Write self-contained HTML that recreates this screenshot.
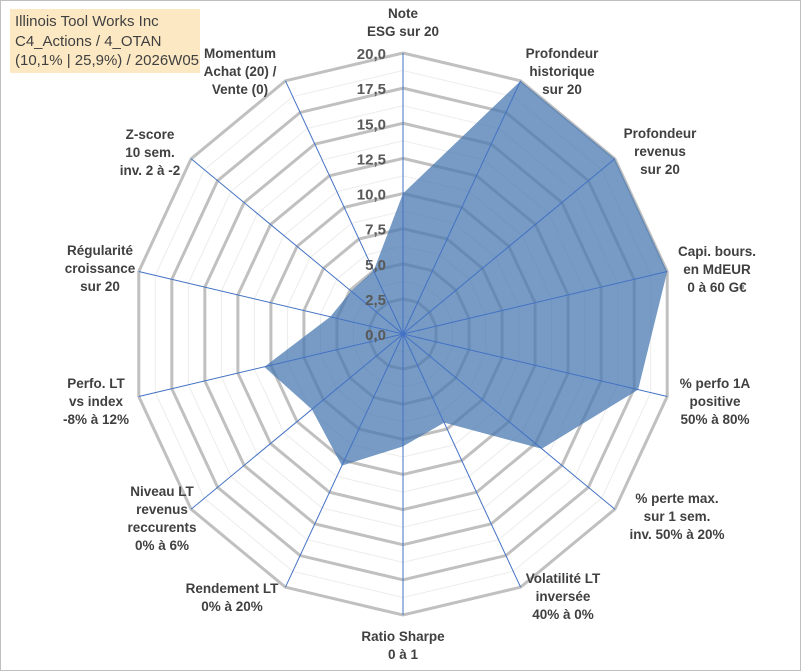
<!DOCTYPE html>
<html><head><meta charset="utf-8"><style>
html,body{margin:0;padding:0;background:#fff}
#wrap{position:relative;width:801px;height:671px;overflow:hidden;font-family:"Liberation Sans",Arial,sans-serif}
.lbl{position:absolute;font-size:13.5px;font-weight:bold;color:#404040;text-align:center;line-height:18px;white-space:nowrap;transform:translate(-50%,0)}
</style></head><body>
<div id="wrap">
<svg id="svg" width="801" height="671" style="position:absolute;left:0;top:0"></svg>
<div style="position:absolute;left:10px;top:9px;width:190px;height:64px;background:#fce9c4;font-family:'Liberation Sans',Arial,sans-serif;font-size:15px;color:#404040;line-height:19.5px;padding:3px 0 0 5px;box-sizing:border-box">Illinois Tool Works Inc<br>C4_Actions / 4_OTAN<br>(10,1% | 25,9%) / 2026W05</div>
</div>
<script>
const categories=["Note\nESG sur 20","Profondeur\nhistorique\nsur 20","Profondeur\nrevenus\nsur 20","Capi. bours.\nen MdEUR\n0 à 60 G€","% perfo 1A\npositive\n50% à 80%","% perte max.\nsur 1 sem.\ninv. 50% à 20%","Volatilité LT\ninversée\n40% à 0%","Ratio Sharpe\n0 à 1","Rendement LT\n0% à 20%","Niveau LT\nrevenus\nreccurents\n0% à 6%","Perfo. LT\nvs index\n-8% à 12%","Régularité\ncroissance\nsur 20","Z-score\n10 sem.\ninv. 2 à -2","Momentum\nAchat (20) /\nVente (0)"];
const values=[10,20,20,20,17.8,13.1,7.0,8.0,10.4,8.6,10.5,5.5,4.9,5.0];
const tickLabels=["0,0","2,5","5,0","7,5","10,0","12,5","15,0","17,5","20,0"];
const labelPos=[[403,5],[562,45],[660,125],[717,243],[715,375],[677,490],[563,570],[403,628],[232,580],[162,483],[96,375],[100,242],[150,126],[240,45]];
const cx=403,cy=334,RX=271,RY=281,maxV=20,n=categories.length;
const svg=document.getElementById('svg');const NS='http://www.w3.org/2000/svg';
function ang(i){return i*2*Math.PI/n;}
function pt(i,v){const f=v/maxV;return [cx+f*RX*Math.sin(ang(i)),cy-f*RY*Math.cos(ang(i))];}
function mk(t,a){const e=document.createElementNS(NS,t);for(const k in a)e.setAttribute(k,a[k]);svg.appendChild(e);return e;}
const frame=mk('rect',{x:0.5,y:0.5,width:800,height:670,fill:'none',stroke:'#bfbfbf'});


for(let k=1;k<=16;k++){const v=k*1.25;const ps=[];for(let i=0;i<n;i++)ps.push(pt(i,v).join(','));
 const g=mk('polygon',{points:ps.join(' '),fill:'none',stroke:k%2==0?'#c0c0c0':'#ececec','stroke-width':k%2==0?3:1});
 
 }
const ps=values.map((v,i)=>pt(i,v).join(','));
const poly=mk('polygon',{points:ps.join(' '),fill:'rgba(74,122,176,0.75)',stroke:'none'});


for(let i=0;i<n;i++){const p=pt(i,maxV);const l=mk('line',{x1:cx,y1:cy,x2:p[0],y2:p[1],stroke:'#4472c4','stroke-width':1});
 
 }
tickLabels.forEach((t,k)=>{const y=cy-k*2.5/maxV*RY;const e=mk('text',{x:cx-17,y:y+6,'text-anchor':'end','font-size':15,'font-weight':'bold',fill:'#595959','font-family':'Liberation Sans, Arial, sans-serif'});e.textContent=t;
 
 });
const wrap=document.getElementById('wrap');
categories.forEach((c,i)=>{const d=document.createElement('div');d.className='lbl';d.style.left=labelPos[i][0]+'px';d.style.top=labelPos[i][1]+'px';d.innerHTML=c.split('\n').join('<br>');
 
 
 wrap.appendChild(d);});
</script>
</body></html>
